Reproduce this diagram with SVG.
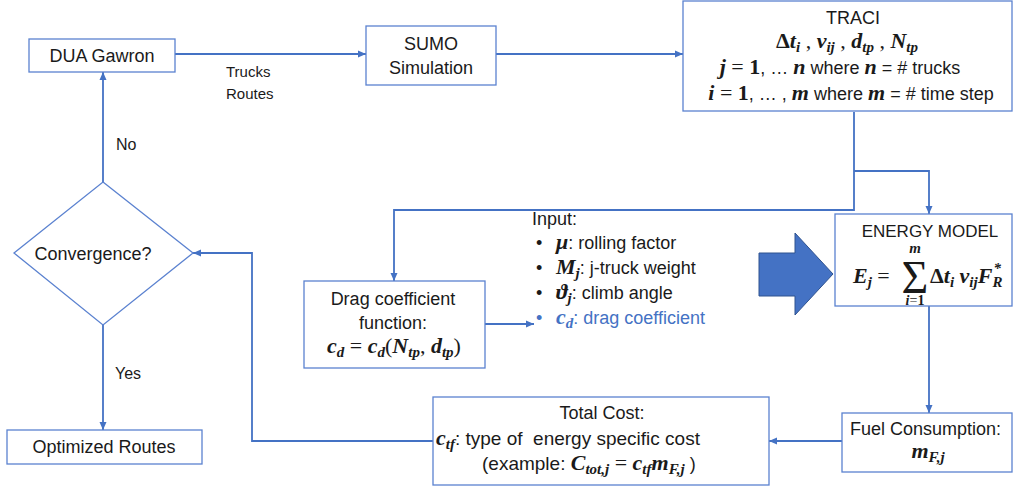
<svg xmlns="http://www.w3.org/2000/svg" width="1016" height="490" viewBox="0 0 1016 490">
<style>
.t{font-family:"Liberation Sans",Arial,sans-serif;font-size:18px;fill:#1a1a1a}
.sm{font-size:15px}
.mi{font-family:"Liberation Serif","DejaVu Serif",serif;font-style:italic;font-weight:bold;font-size:22px;fill:#1a1a1a}
.up{font-style:normal}
.rg{font-style:normal;font-weight:normal}
.s{font-family:"Liberation Sans",Arial,sans-serif;font-style:normal;font-weight:normal;font-size:18px}
.sb{font-size:15px}
.box{fill:#fff;stroke:#5B82D0;stroke-width:1.3}
.conn{fill:none;stroke:#4472C4;stroke-width:1.8}
.blue{fill:#4472C4}
</style>
<defs>
<marker id="ah" markerUnits="userSpaceOnUse" markerWidth="9" markerHeight="9" refX="8" refY="4.5" orient="auto">
<path d="M0,1 L8,4.5 L0,8 Z" fill="#4472C4"/>
</marker>
</defs>

<g id="connectors">
<path class="conn" d="M175,54 H366" marker-end="url(#ah)"/>
<path class="conn" d="M496,54 H683" marker-end="url(#ah)"/>
<path class="conn" d="M854,112 V210 H394 V281" marker-end="url(#ah)"/>
<path class="conn" d="M854,171 H929 V214" marker-end="url(#ah)"/>
<path class="conn" d="M485,324 H534" marker-end="url(#ah)"/>
<path class="conn" d="M929,306 V413" marker-end="url(#ah)"/>
<path class="conn" d="M842,441 H769" marker-end="url(#ah)"/>
<path class="conn" d="M433,441 H252 V253 H193" marker-end="url(#ah)"/>
<path class="conn" d="M103,182 V72" marker-end="url(#ah)"/>
<path class="conn" d="M103,325 V430" marker-end="url(#ah)"/>
<text class="t sm" x="226" y="77">Trucks</text>
<text class="t sm" x="226" y="99">Routes</text>
<text class="t" x="116" y="150" style="font-size:16px">No</text>
<text class="t" x="115" y="379" style="font-size:16px">Yes</text>
</g>

<g id="dua">
<rect class="box" x="29" y="39" width="146" height="33"/>
<text class="t" x="102" y="62" text-anchor="middle">DUA Gawron</text>
</g>

<g id="sumo">
<rect class="box" x="366" y="26" width="130" height="59"/>
<text class="t" x="431" y="50" text-anchor="middle">SUMO</text>
<text class="t" x="431" y="74" text-anchor="middle">Simulation</text>
</g>

<g id="traci">
<rect class="box" x="683" y="1" width="329" height="110"/>
<text class="t" x="853" y="24" text-anchor="middle">TRACI</text>
<text class="mi" x="847" y="48" text-anchor="middle"><tspan class="up">Δ</tspan>t<tspan class="sb" dy="4">i</tspan><tspan class="rg" dy="-4"> , </tspan>v<tspan class="sb" dy="4">ij</tspan><tspan class="rg" dy="-4"> , </tspan>d<tspan class="sb" dy="4">tp</tspan><tspan class="rg" dy="-4"> , </tspan>N<tspan class="sb" dy="4">tp</tspan></text>
<text class="mi" x="840" y="74" text-anchor="middle">j<tspan class="rg"> = </tspan><tspan class="up">1</tspan><tspan class="s">, … </tspan>n<tspan class="s"> where </tspan>n<tspan class="s"> = # trucks</tspan></text>
<text class="mi" x="851" y="100" text-anchor="middle">i<tspan class="rg"> = </tspan><tspan class="up">1</tspan><tspan class="s">, … , </tspan>m<tspan class="s"> where </tspan>m<tspan class="s"> = # time step</tspan></text>
</g>

<g id="convergence">
<polygon class="box" points="103,182 193,253 103,325 14,253"/>
<text class="t" x="93" y="260" text-anchor="middle">Convergence?</text>
</g>

<g id="optimized">
<rect class="box" x="7" y="430" width="195" height="34"/>
<text class="t" x="104" y="453" text-anchor="middle">Optimized Routes</text>
</g>

<g id="drag">
<rect class="box" x="304" y="281" width="181" height="87"/>
<text class="t" x="393" y="305" text-anchor="middle">Drag coefficient</text>
<text class="t" x="393" y="329" text-anchor="middle">function:</text>
<text class="mi" x="394" y="353" text-anchor="middle">c<tspan class="sb" dy="4">d</tspan><tspan class="rg" dy="-4"> = </tspan>c<tspan class="sb" dy="4">d</tspan><tspan class="rg" dy="-4">(</tspan>N<tspan class="sb" dy="4">tp</tspan><tspan class="rg" dy="-4">, </tspan>d<tspan class="sb" dy="4">tp</tspan><tspan class="rg" dy="-4">)</tspan></text>
</g>

<g id="input">
<text class="t" x="532" y="225">Input:</text>
<text class="t" x="536" y="249">•</text>
<text class="t" x="536" y="274">•</text>
<text class="t" x="536" y="299">•</text>
<text class="t blue" x="536" y="324">•</text>
<text class="mi" x="556" y="249">μ<tspan class="s">: rolling factor</tspan></text>
<text class="mi" x="556" y="274">M<tspan class="sb" dy="4">j</tspan><tspan class="s" dy="-4">: j-truck weight</tspan></text>
<text class="mi" x="556" y="299">ϑ<tspan class="sb" dy="4">j</tspan><tspan class="s" dy="-4">: climb angle</tspan></text>
<text class="mi blue" x="556" y="324">c<tspan class="sb" dy="4">d</tspan><tspan class="s" dy="-4">: drag coefficient</tspan></text>
</g>

<g id="bigarrow">
<polygon points="759,253 795,253 795,233 833,274 795,315 795,296 759,296" fill="#4472C4" stroke="#2F528F" stroke-width="1"/>
</g>

<g id="energy">
<rect class="box" x="835" y="214" width="177" height="92"/>
<text class="t" x="930" y="237" text-anchor="middle" style="font-size:17px">ENERGY MODEL</text>
<text class="mi" x="853" y="283">E<tspan class="sb" dy="4">j</tspan><tspan class="rg" dy="-4"> =</tspan></text>
<text class="mi" text-anchor="middle"><tspan x="915" y="253" style="font-size:15px">m</tspan><tspan class="rg" x="915" y="293" style="font-size:46px">Σ</tspan><tspan x="915" y="305" style="font-size:14px">i<tspan class="rg">=</tspan><tspan class="up">1</tspan></tspan></text>
<text class="mi" x="930" y="283"><tspan class="up">Δ</tspan>t<tspan class="sb" dy="4">i</tspan><tspan dy="-4"> v</tspan><tspan class="sb" dy="4">ij</tspan><tspan dy="-4">F</tspan><tspan class="sb" dy="4">R</tspan><tspan class="sb" dx="-9" dy="-14">*</tspan></text>
</g>

<g id="fuel">
<rect class="box" x="842" y="413" width="170" height="59"/>
<text class="t" x="850" y="435">Fuel Consumption:</text>
<text class="mi" x="928" y="458" text-anchor="middle">m<tspan class="sb" dy="4">F,j</tspan></text>
</g>

<g id="totalcost">
<rect class="box" x="433" y="397" width="336" height="88"/>
<text class="t" x="602" y="419" text-anchor="middle">Total Cost:</text>
<text class="mi" x="436" y="445" xml:space="preserve">c<tspan class="sb" dy="4">tf</tspan><tspan class="s" dy="-4" style="font-size:19px">: type of  energy specific cost</tspan></text>
<text class="mi" x="482" y="470"><tspan class="s" style="font-size:19px">(example: </tspan>C<tspan class="sb" dy="4">tot,j</tspan><tspan class="rg" dy="-4"> = </tspan>c<tspan class="sb" dy="4">tf</tspan><tspan dy="-4">m</tspan><tspan class="sb" dy="4">F,j</tspan><tspan class="s" dy="-4"> )</tspan></text>
</g>
</svg>
